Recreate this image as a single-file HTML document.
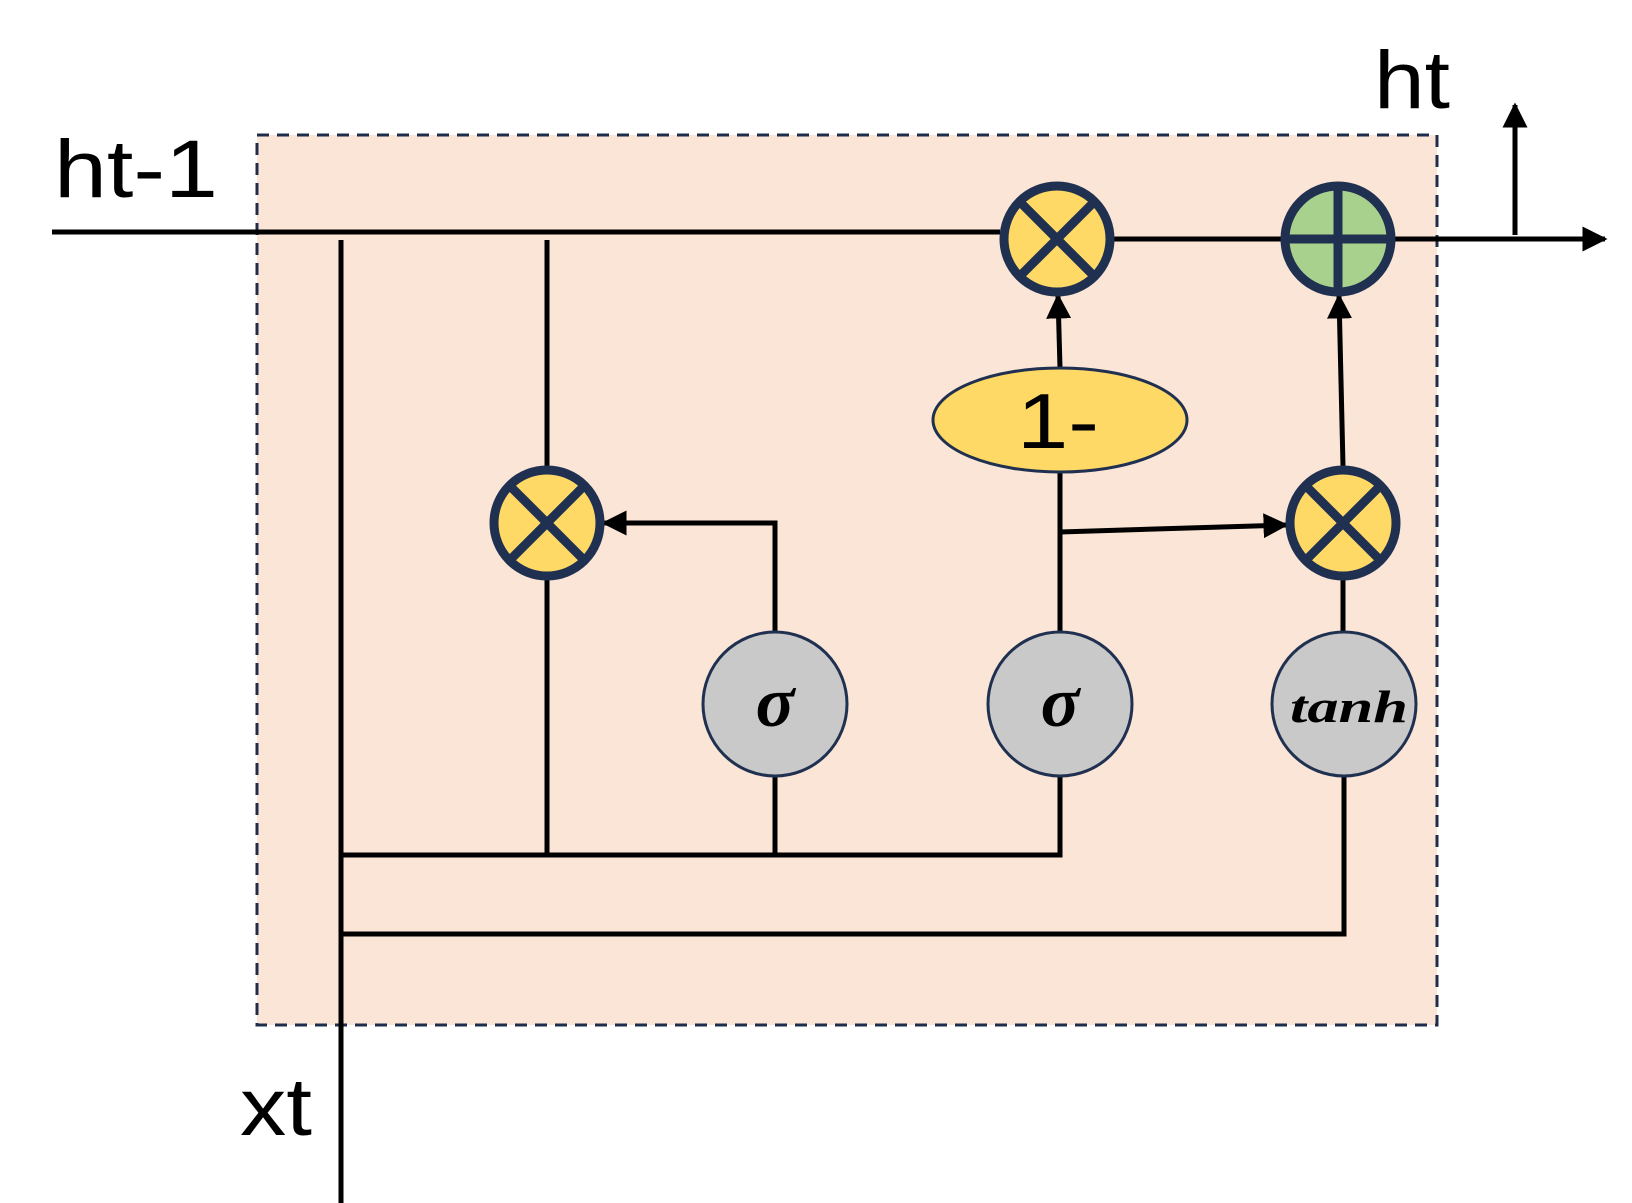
<!DOCTYPE html>
<html><head><meta charset="utf-8"><style>html,body{margin:0;padding:0;background:#fff}svg{display:block}</style></head>
<body>
<svg width="1632" height="1203" viewBox="0 0 1632 1203" xmlns="http://www.w3.org/2000/svg">
<defs>
<marker id="ar" viewBox="0 0 10 10" refX="9" refY="5" markerWidth="5" markerHeight="5" orient="auto" markerUnits="strokeWidth"><path d="M0,0 L10,5 L0,10 z" fill="#000"/></marker>
</defs>
<rect x="257" y="135" width="1180" height="890" fill="#fbe5d6" stroke="#1f2d4a" stroke-width="3" stroke-dasharray="12,8"/>
<g stroke="#000" stroke-width="5" fill="none">
<line x1="52" y1="232" x2="1000" y2="232"/>
<line x1="1114" y1="239" x2="1281" y2="239"/>
<line x1="1395" y1="239" x2="1605" y2="239" marker-end="url(#ar)"/>
<line x1="1515" y1="235" x2="1515" y2="105" marker-end="url(#ar)"/>
<line x1="341" y1="240" x2="341" y2="1203"/>
<line x1="547" y1="240" x2="547" y2="466"/>
<line x1="547" y1="580" x2="547" y2="855"/>
<polyline points="341,855 1060,855 1060,777"/>
<polyline points="775,855 775,777"/>
<polyline points="775,631 775,523 604,523" marker-end="url(#ar)"/>
<line x1="1060" y1="631" x2="1060" y2="472"/>
<line x1="1060" y1="368" x2="1058" y2="296" marker-end="url(#ar)"/>
<line x1="1060" y1="532" x2="1286" y2="525" marker-end="url(#ar)"/>
<line x1="1343" y1="466" x2="1339" y2="296" marker-end="url(#ar)"/>
<line x1="1343" y1="580" x2="1343" y2="631"/>
<polyline points="341,934 1344,934 1344,777"/>
</g>
<g stroke="#1f3050" stroke-width="9">
<circle cx="1057" cy="239" r="53" fill="#ffd966"/>
<line x1="1020" y1="202" x2="1094" y2="276"/><line x1="1094" y1="202" x2="1020" y2="276"/>
<circle cx="1338" cy="239" r="53" fill="#a9d18e"/>
<line x1="1285" y1="239" x2="1391" y2="239"/><line x1="1338" y1="186" x2="1338" y2="292"/>
<circle cx="547" cy="523" r="53" fill="#ffd966"/>
<line x1="510" y1="486" x2="584" y2="560"/><line x1="584" y1="486" x2="510" y2="560"/>
<circle cx="1343" cy="523" r="53" fill="#ffd966"/>
<line x1="1306" y1="486" x2="1380" y2="560"/><line x1="1380" y1="486" x2="1306" y2="560"/>
</g>
<ellipse cx="1060" cy="420" rx="127" ry="52" fill="#ffd966" stroke="#1f3050" stroke-width="3"/>
<g fill="#c9c9c9" stroke="#1f3050" stroke-width="3">
<circle cx="775" cy="704" r="72"/><circle cx="1060" cy="704" r="72"/><circle cx="1344" cy="704" r="72"/>
</g>
<g font-family="Liberation Sans, sans-serif" fill="#000">
<text x="1017" y="448" font-size="78" textLength="82" lengthAdjust="spacingAndGlyphs">1-</text>
<text x="1374" y="108" font-size="82" textLength="76" lengthAdjust="spacingAndGlyphs">ht</text>
<text x="54" y="197" font-size="82" textLength="164" lengthAdjust="spacingAndGlyphs">ht-1</text>
<text x="240" y="1135" font-size="82" textLength="72" lengthAdjust="spacingAndGlyphs">xt</text>
</g>
<g font-family="Liberation Serif, serif" font-weight="bold" font-style="italic" fill="#000">
<text x="775" y="726" font-size="72" text-anchor="middle">σ</text>
<text x="1060" y="726" font-size="72" text-anchor="middle">σ</text>
<text x="1349" y="722" font-size="46" text-anchor="middle" textLength="118" lengthAdjust="spacingAndGlyphs">tanh</text>
</g>
</svg>
</body></html>
